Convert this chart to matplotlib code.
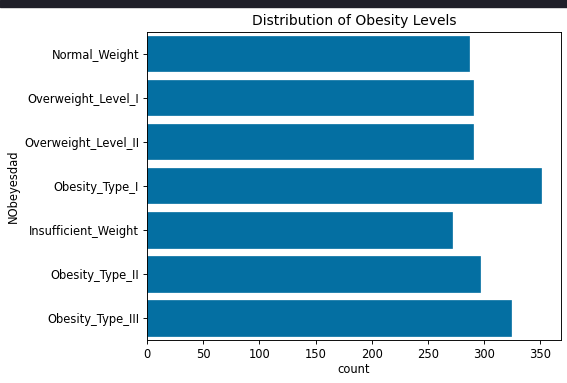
import matplotlib
matplotlib.use('Agg')
import matplotlib.pyplot as plt
from matplotlib.patches import Rectangle

# scale of the original render
s = 0.83
plt.rcParams['font.size'] = 10 * s
plt.rcParams['axes.titlesize'] = 12 * s
plt.rcParams['axes.linewidth'] = 0.8 * s
plt.rcParams['xtick.major.size'] = 3.5 * s
plt.rcParams['ytick.major.size'] = 3.5 * s
plt.rcParams['xtick.major.width'] = 0.8 * s
plt.rcParams['ytick.major.width'] = 0.8 * s
plt.rcParams['xtick.major.pad'] = 3.5 * s
plt.rcParams['ytick.major.pad'] = 3.5 * s
plt.rcParams['axes.labelpad'] = 4 * s
plt.rcParams['axes.titlepad'] = 6 * s

# obesity level counts
levels = ['Normal_Weight', 'Overweight_Level_I', 'Overweight_Level_II',
          'Obesity_Type_I', 'Insufficient_Weight', 'Obesity_Type_II',
          'Obesity_Type_III']
counts = [287, 290, 290, 351, 272, 297, 324]

fig = plt.figure(figsize=(5.67, 3.83), dpi=100)
ax = fig.add_axes([147.3 / 567, 1 - 340 / 383, (560.7 - 147.3) / 567, (340 - 31.7) / 383])

# dark notebook band on top
fig.patches.append(Rectangle((0, 1 - 6.5 / 383), 1, 6.5 / 383, transform=fig.transFigure,
                             color='#1f1f29', zorder=0))

ax.barh(range(len(levels)), counts, height=0.8, color='#046fa2',
        edgecolor='#046fa2', linewidth=0.5)
ax.set_yticks(range(len(levels)))
ax.set_yticklabels(levels)
ax.set_ylim(len(levels) - 0.5, -0.5)
ax.set_xlim(0, max(counts) * 1.05)
ax.set_xlabel('count', labelpad=1.5)
ax.set_ylabel('NObeyesdad')
ax.set_title('Distribution of Obesity Levels')

fig.savefig('out.png', dpi=100)
